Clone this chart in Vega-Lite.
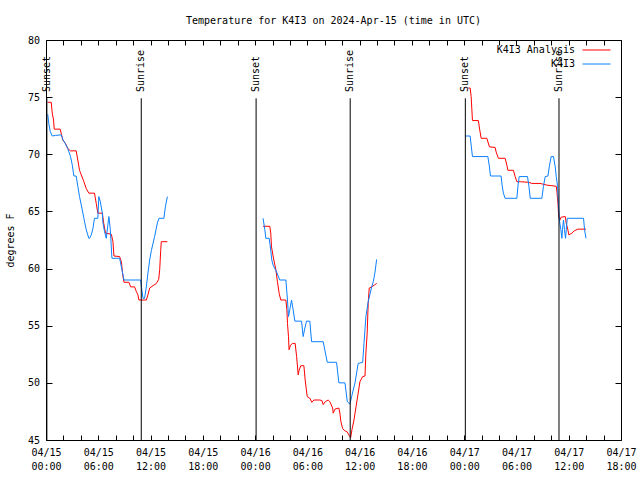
{
  "$schema": "https://vega.github.io/schema/vega-lite/v6.json",
  "autosize": "none",
  "padding": {"left": 46, "top": 40, "right": 19, "bottom": 40},
  "width": 575,
  "height": 400,
  "title": {"text": "Temperature for K4I3 on 2024-Apr-15 (time in UTC)", "font": "DejaVu Sans Mono", "fontSize": 10, "fontWeight": "normal", "color": "black", "anchor": "middle", "baseline": "alphabetic", "offset": 1, "frame": "group"},
  "config": {
    "font": "DejaVu Sans Mono",
    "view": {"stroke": "black", "strokeWidth": 1},
    "axis": {"domain": false, "grid": false, "labelFont": "DejaVu Sans Mono", "labelFontSize": 10, "labelColor": "black", "tickColor": "black", "titleFont": "DejaVu Sans Mono", "titleFontSize": 10, "titleFontWeight": "normal", "titleColor": "black"},
    "legend": {"symbolStrokeWidth": 1, "labelFont": "DejaVu Sans Mono", "labelFontSize": 10, "labelColor": "black"}
  },
  "datasets": {
    "sun": [
      {"e": "Sunset", "t": "2024-04-15T00:06:00Z"},
      {"e": "Sunrise", "t": "2024-04-15T10:56:00Z"},
      {"e": "Sunset", "t": "2024-04-16T00:07:00Z"},
      {"e": "Sunrise", "t": "2024-04-16T10:55:00Z"},
      {"e": "Sunset", "t": "2024-04-17T00:08:00Z"},
      {"e": "Sunrise", "t": "2024-04-17T10:53:00Z"}
    ],
    "obs": [
      {"s": "K4I3 Analysis", "g": 1, "t": "2024-04-15T00:12:00Z", "v": 74.55},
      {"s": "K4I3 Analysis", "g": 1, "t": "2024-04-15T00:36:00Z", "v": 74.55},
      {"s": "K4I3 Analysis", "g": 1, "t": "2024-04-15T00:43:00Z", "v": 73.6},
      {"s": "K4I3 Analysis", "g": 1, "t": "2024-04-15T00:52:00Z", "v": 73.0},
      {"s": "K4I3 Analysis", "g": 1, "t": "2024-04-15T00:57:00Z", "v": 72.2},
      {"s": "K4I3 Analysis", "g": 1, "t": "2024-04-15T01:38:00Z", "v": 72.2},
      {"s": "K4I3 Analysis", "g": 1, "t": "2024-04-15T01:47:00Z", "v": 71.7},
      {"s": "K4I3 Analysis", "g": 1, "t": "2024-04-15T01:56:00Z", "v": 71.25},
      {"s": "K4I3 Analysis", "g": 1, "t": "2024-04-15T02:14:00Z", "v": 70.95},
      {"s": "K4I3 Analysis", "g": 1, "t": "2024-04-15T02:30:00Z", "v": 70.5},
      {"s": "K4I3 Analysis", "g": 1, "t": "2024-04-15T02:49:00Z", "v": 70.3},
      {"s": "K4I3 Analysis", "g": 1, "t": "2024-04-15T03:28:00Z", "v": 70.3},
      {"s": "K4I3 Analysis", "g": 1, "t": "2024-04-15T03:39:00Z", "v": 69.5},
      {"s": "K4I3 Analysis", "g": 1, "t": "2024-04-15T03:51:00Z", "v": 68.6},
      {"s": "K4I3 Analysis", "g": 1, "t": "2024-04-15T04:03:00Z", "v": 68.2},
      {"s": "K4I3 Analysis", "g": 1, "t": "2024-04-15T04:21:00Z", "v": 67.6},
      {"s": "K4I3 Analysis", "g": 1, "t": "2024-04-15T04:37:00Z", "v": 67.0},
      {"s": "K4I3 Analysis", "g": 1, "t": "2024-04-15T04:55:00Z", "v": 66.6},
      {"s": "K4I3 Analysis", "g": 1, "t": "2024-04-15T05:34:00Z", "v": 66.6},
      {"s": "K4I3 Analysis", "g": 1, "t": "2024-04-15T05:46:00Z", "v": 65.7},
      {"s": "K4I3 Analysis", "g": 1, "t": "2024-04-15T05:57:00Z", "v": 64.85},
      {"s": "K4I3 Analysis", "g": 1, "t": "2024-04-15T06:28:00Z", "v": 64.85},
      {"s": "K4I3 Analysis", "g": 1, "t": "2024-04-15T06:37:00Z", "v": 64.0},
      {"s": "K4I3 Analysis", "g": 1, "t": "2024-04-15T06:50:00Z", "v": 63.1},
      {"s": "K4I3 Analysis", "g": 1, "t": "2024-04-15T07:30:00Z", "v": 63.0},
      {"s": "K4I3 Analysis", "g": 1, "t": "2024-04-15T07:41:00Z", "v": 62.35},
      {"s": "K4I3 Analysis", "g": 1, "t": "2024-04-15T07:48:00Z", "v": 61.1},
      {"s": "K4I3 Analysis", "g": 1, "t": "2024-04-15T08:27:00Z", "v": 61.05},
      {"s": "K4I3 Analysis", "g": 1, "t": "2024-04-15T08:39:00Z", "v": 60.6},
      {"s": "K4I3 Analysis", "g": 1, "t": "2024-04-15T08:50:00Z", "v": 59.3},
      {"s": "K4I3 Analysis", "g": 1, "t": "2024-04-15T08:57:00Z", "v": 58.8},
      {"s": "K4I3 Analysis", "g": 1, "t": "2024-04-15T09:31:00Z", "v": 58.8},
      {"s": "K4I3 Analysis", "g": 1, "t": "2024-04-15T09:43:00Z", "v": 58.4},
      {"s": "K4I3 Analysis", "g": 1, "t": "2024-04-15T10:10:00Z", "v": 58.4},
      {"s": "K4I3 Analysis", "g": 1, "t": "2024-04-15T10:22:00Z", "v": 58.0},
      {"s": "K4I3 Analysis", "g": 1, "t": "2024-04-15T10:33:00Z", "v": 57.7},
      {"s": "K4I3 Analysis", "g": 1, "t": "2024-04-15T10:40:00Z", "v": 57.25},
      {"s": "K4I3 Analysis", "g": 1, "t": "2024-04-15T11:31:00Z", "v": 57.25},
      {"s": "K4I3 Analysis", "g": 1, "t": "2024-04-15T11:42:00Z", "v": 57.7},
      {"s": "K4I3 Analysis", "g": 1, "t": "2024-04-15T11:54:00Z", "v": 58.3},
      {"s": "K4I3 Analysis", "g": 1, "t": "2024-04-15T12:17:00Z", "v": 58.5},
      {"s": "K4I3 Analysis", "g": 1, "t": "2024-04-15T12:40:00Z", "v": 58.7},
      {"s": "K4I3 Analysis", "g": 1, "t": "2024-04-15T12:56:00Z", "v": 59.05},
      {"s": "K4I3 Analysis", "g": 1, "t": "2024-04-15T13:03:00Z", "v": 59.9},
      {"s": "K4I3 Analysis", "g": 1, "t": "2024-04-15T13:10:00Z", "v": 61.6},
      {"s": "K4I3 Analysis", "g": 1, "t": "2024-04-15T13:14:00Z", "v": 62.35},
      {"s": "K4I3 Analysis", "g": 1, "t": "2024-04-15T13:56:00Z", "v": 62.35},
      {"s": "K4I3 Analysis", "g": 2, "t": "2024-04-16T00:55:00Z", "v": 63.7},
      {"s": "K4I3 Analysis", "g": 2, "t": "2024-04-16T01:41:00Z", "v": 63.7},
      {"s": "K4I3 Analysis", "g": 2, "t": "2024-04-16T01:48:00Z", "v": 63.1},
      {"s": "K4I3 Analysis", "g": 2, "t": "2024-04-16T01:53:00Z", "v": 61.9},
      {"s": "K4I3 Analysis", "g": 2, "t": "2024-04-16T02:09:00Z", "v": 60.75},
      {"s": "K4I3 Analysis", "g": 2, "t": "2024-04-16T02:23:00Z", "v": 59.9},
      {"s": "K4I3 Analysis", "g": 2, "t": "2024-04-16T02:34:00Z", "v": 58.85},
      {"s": "K4I3 Analysis", "g": 2, "t": "2024-04-16T02:46:00Z", "v": 57.8},
      {"s": "K4I3 Analysis", "g": 2, "t": "2024-04-16T02:57:00Z", "v": 57.25},
      {"s": "K4I3 Analysis", "g": 2, "t": "2024-04-16T03:32:00Z", "v": 57.25},
      {"s": "K4I3 Analysis", "g": 2, "t": "2024-04-16T03:39:00Z", "v": 56.4},
      {"s": "K4I3 Analysis", "g": 2, "t": "2024-04-16T03:43:00Z", "v": 55.2},
      {"s": "K4I3 Analysis", "g": 2, "t": "2024-04-16T03:50:00Z", "v": 54.05},
      {"s": "K4I3 Analysis", "g": 2, "t": "2024-04-16T03:54:00Z", "v": 52.9},
      {"s": "K4I3 Analysis", "g": 2, "t": "2024-04-16T04:04:00Z", "v": 53.3},
      {"s": "K4I3 Analysis", "g": 2, "t": "2024-04-16T04:18:00Z", "v": 53.45},
      {"s": "K4I3 Analysis", "g": 2, "t": "2024-04-16T04:36:00Z", "v": 53.45},
      {"s": "K4I3 Analysis", "g": 2, "t": "2024-04-16T04:46:00Z", "v": 52.3},
      {"s": "K4I3 Analysis", "g": 2, "t": "2024-04-16T04:57:00Z", "v": 50.7},
      {"s": "K4I3 Analysis", "g": 2, "t": "2024-04-16T05:03:00Z", "v": 51.1},
      {"s": "K4I3 Analysis", "g": 2, "t": "2024-04-16T05:15:00Z", "v": 51.5},
      {"s": "K4I3 Analysis", "g": 2, "t": "2024-04-16T05:36:00Z", "v": 51.5},
      {"s": "K4I3 Analysis", "g": 2, "t": "2024-04-16T05:45:00Z", "v": 50.25},
      {"s": "K4I3 Analysis", "g": 2, "t": "2024-04-16T05:59:00Z", "v": 48.8},
      {"s": "K4I3 Analysis", "g": 2, "t": "2024-04-16T06:17:00Z", "v": 48.65},
      {"s": "K4I3 Analysis", "g": 2, "t": "2024-04-16T06:31:00Z", "v": 48.3},
      {"s": "K4I3 Analysis", "g": 2, "t": "2024-04-16T06:45:00Z", "v": 48.5},
      {"s": "K4I3 Analysis", "g": 2, "t": "2024-04-16T07:26:00Z", "v": 48.5},
      {"s": "K4I3 Analysis", "g": 2, "t": "2024-04-16T07:40:00Z", "v": 48.45},
      {"s": "K4I3 Analysis", "g": 2, "t": "2024-04-16T07:49:00Z", "v": 48.1},
      {"s": "K4I3 Analysis", "g": 2, "t": "2024-04-16T08:03:00Z", "v": 48.35},
      {"s": "K4I3 Analysis", "g": 2, "t": "2024-04-16T08:23:00Z", "v": 48.5},
      {"s": "K4I3 Analysis", "g": 2, "t": "2024-04-16T08:35:00Z", "v": 48.35},
      {"s": "K4I3 Analysis", "g": 2, "t": "2024-04-16T08:54:00Z", "v": 47.8},
      {"s": "K4I3 Analysis", "g": 2, "t": "2024-04-16T08:58:00Z", "v": 47.35},
      {"s": "K4I3 Analysis", "g": 2, "t": "2024-04-16T09:10:00Z", "v": 47.7},
      {"s": "K4I3 Analysis", "g": 2, "t": "2024-04-16T09:37:00Z", "v": 47.8},
      {"s": "K4I3 Analysis", "g": 2, "t": "2024-04-16T09:44:00Z", "v": 47.35},
      {"s": "K4I3 Analysis", "g": 2, "t": "2024-04-16T09:51:00Z", "v": 46.6},
      {"s": "K4I3 Analysis", "g": 2, "t": "2024-04-16T10:03:00Z", "v": 46.0},
      {"s": "K4I3 Analysis", "g": 2, "t": "2024-04-16T10:19:00Z", "v": 45.8},
      {"s": "K4I3 Analysis", "g": 2, "t": "2024-04-16T10:35:00Z", "v": 45.7},
      {"s": "K4I3 Analysis", "g": 2, "t": "2024-04-16T10:48:00Z", "v": 45.4},
      {"s": "K4I3 Analysis", "g": 2, "t": "2024-04-16T10:58:00Z", "v": 45.2},
      {"s": "K4I3 Analysis", "g": 2, "t": "2024-04-16T11:07:00Z", "v": 45.9},
      {"s": "K4I3 Analysis", "g": 2, "t": "2024-04-16T11:21:00Z", "v": 46.75},
      {"s": "K4I3 Analysis", "g": 2, "t": "2024-04-16T11:35:00Z", "v": 47.9},
      {"s": "K4I3 Analysis", "g": 2, "t": "2024-04-16T11:50:00Z", "v": 49.1},
      {"s": "K4I3 Analysis", "g": 2, "t": "2024-04-16T12:02:00Z", "v": 50.1},
      {"s": "K4I3 Analysis", "g": 2, "t": "2024-04-16T12:21:00Z", "v": 50.55},
      {"s": "K4I3 Analysis", "g": 2, "t": "2024-04-16T12:37:00Z", "v": 50.6},
      {"s": "K4I3 Analysis", "g": 2, "t": "2024-04-16T12:43:00Z", "v": 52.6},
      {"s": "K4I3 Analysis", "g": 2, "t": "2024-04-16T12:52:00Z", "v": 54.35},
      {"s": "K4I3 Analysis", "g": 2, "t": "2024-04-16T12:59:00Z", "v": 56.95},
      {"s": "K4I3 Analysis", "g": 2, "t": "2024-04-16T13:06:00Z", "v": 58.3},
      {"s": "K4I3 Analysis", "g": 2, "t": "2024-04-16T13:23:00Z", "v": 58.4},
      {"s": "K4I3 Analysis", "g": 2, "t": "2024-04-16T13:41:00Z", "v": 58.55},
      {"s": "K4I3 Analysis", "g": 2, "t": "2024-04-16T13:57:00Z", "v": 58.7},
      {"s": "K4I3 Analysis", "g": 3, "t": "2024-04-17T00:29:00Z", "v": 75.8},
      {"s": "K4I3 Analysis", "g": 3, "t": "2024-04-17T00:41:00Z", "v": 75.8},
      {"s": "K4I3 Analysis", "g": 3, "t": "2024-04-17T00:48:00Z", "v": 75.05},
      {"s": "K4I3 Analysis", "g": 3, "t": "2024-04-17T00:57:00Z", "v": 72.95},
      {"s": "K4I3 Analysis", "g": 3, "t": "2024-04-17T01:38:00Z", "v": 72.95},
      {"s": "K4I3 Analysis", "g": 3, "t": "2024-04-17T01:45:00Z", "v": 72.3},
      {"s": "K4I3 Analysis", "g": 3, "t": "2024-04-17T01:57:00Z", "v": 71.4},
      {"s": "K4I3 Analysis", "g": 3, "t": "2024-04-17T02:36:00Z", "v": 71.4},
      {"s": "K4I3 Analysis", "g": 3, "t": "2024-04-17T02:54:00Z", "v": 70.65},
      {"s": "K4I3 Analysis", "g": 3, "t": "2024-04-17T03:33:00Z", "v": 70.6},
      {"s": "K4I3 Analysis", "g": 3, "t": "2024-04-17T03:40:00Z", "v": 70.2},
      {"s": "K4I3 Analysis", "g": 3, "t": "2024-04-17T03:56:00Z", "v": 69.65},
      {"s": "K4I3 Analysis", "g": 3, "t": "2024-04-17T04:42:00Z", "v": 69.65},
      {"s": "K4I3 Analysis", "g": 3, "t": "2024-04-17T04:54:00Z", "v": 69.05},
      {"s": "K4I3 Analysis", "g": 3, "t": "2024-04-17T05:01:00Z", "v": 68.6},
      {"s": "K4I3 Analysis", "g": 3, "t": "2024-04-17T05:39:00Z", "v": 68.6},
      {"s": "K4I3 Analysis", "g": 3, "t": "2024-04-17T05:51:00Z", "v": 68.05},
      {"s": "K4I3 Analysis", "g": 3, "t": "2024-04-17T06:03:00Z", "v": 67.6},
      {"s": "K4I3 Analysis", "g": 3, "t": "2024-04-17T06:26:00Z", "v": 67.6},
      {"s": "K4I3 Analysis", "g": 3, "t": "2024-04-17T07:23:00Z", "v": 67.55},
      {"s": "K4I3 Analysis", "g": 3, "t": "2024-04-17T07:46:00Z", "v": 67.45},
      {"s": "K4I3 Analysis", "g": 3, "t": "2024-04-17T08:43:00Z", "v": 67.45},
      {"s": "K4I3 Analysis", "g": 3, "t": "2024-04-17T09:30:00Z", "v": 67.3},
      {"s": "K4I3 Analysis", "g": 3, "t": "2024-04-17T10:04:00Z", "v": 67.25},
      {"s": "K4I3 Analysis", "g": 3, "t": "2024-04-17T10:34:00Z", "v": 67.2},
      {"s": "K4I3 Analysis", "g": 3, "t": "2024-04-17T10:39:00Z", "v": 66.7},
      {"s": "K4I3 Analysis", "g": 3, "t": "2024-04-17T10:46:00Z", "v": 65.7},
      {"s": "K4I3 Analysis", "g": 3, "t": "2024-04-17T10:50:00Z", "v": 64.7},
      {"s": "K4I3 Analysis", "g": 3, "t": "2024-04-17T10:57:00Z", "v": 64.2},
      {"s": "K4I3 Analysis", "g": 3, "t": "2024-04-17T11:08:00Z", "v": 64.5},
      {"s": "K4I3 Analysis", "g": 3, "t": "2024-04-17T11:36:00Z", "v": 64.55},
      {"s": "K4I3 Analysis", "g": 3, "t": "2024-04-17T11:43:00Z", "v": 63.95},
      {"s": "K4I3 Analysis", "g": 3, "t": "2024-04-17T11:54:00Z", "v": 63.4},
      {"s": "K4I3 Analysis", "g": 3, "t": "2024-04-17T12:01:00Z", "v": 62.95},
      {"s": "K4I3 Analysis", "g": 3, "t": "2024-04-17T12:22:00Z", "v": 63.1},
      {"s": "K4I3 Analysis", "g": 3, "t": "2024-04-17T12:38:00Z", "v": 63.3},
      {"s": "K4I3 Analysis", "g": 3, "t": "2024-04-17T13:03:00Z", "v": 63.45},
      {"s": "K4I3 Analysis", "g": 3, "t": "2024-04-17T13:59:00Z", "v": 63.45},
      {"s": "K4I3", "g": 1, "t": "2024-04-15T00:12:00Z", "v": 73.5},
      {"s": "K4I3", "g": 1, "t": "2024-04-15T00:19:00Z", "v": 72.7},
      {"s": "K4I3", "g": 1, "t": "2024-04-15T00:29:00Z", "v": 72.0},
      {"s": "K4I3", "g": 1, "t": "2024-04-15T00:43:00Z", "v": 71.6},
      {"s": "K4I3", "g": 1, "t": "2024-04-15T01:05:00Z", "v": 71.65},
      {"s": "K4I3", "g": 1, "t": "2024-04-15T01:45:00Z", "v": 71.7},
      {"s": "K4I3", "g": 1, "t": "2024-04-15T01:56:00Z", "v": 71.3},
      {"s": "K4I3", "g": 1, "t": "2024-04-15T02:14:00Z", "v": 70.9},
      {"s": "K4I3", "g": 1, "t": "2024-04-15T02:30:00Z", "v": 70.5},
      {"s": "K4I3", "g": 1, "t": "2024-04-15T02:49:00Z", "v": 69.8},
      {"s": "K4I3", "g": 1, "t": "2024-04-15T03:01:00Z", "v": 69.05},
      {"s": "K4I3", "g": 1, "t": "2024-04-15T03:12:00Z", "v": 68.1},
      {"s": "K4I3", "g": 1, "t": "2024-04-15T03:28:00Z", "v": 68.1},
      {"s": "K4I3", "g": 1, "t": "2024-04-15T03:39:00Z", "v": 67.2},
      {"s": "K4I3", "g": 1, "t": "2024-04-15T03:51:00Z", "v": 66.3},
      {"s": "K4I3", "g": 1, "t": "2024-04-15T04:07:00Z", "v": 65.3},
      {"s": "K4I3", "g": 1, "t": "2024-04-15T04:21:00Z", "v": 64.4},
      {"s": "K4I3", "g": 1, "t": "2024-04-15T04:37:00Z", "v": 63.4},
      {"s": "K4I3", "g": 1, "t": "2024-04-15T04:55:00Z", "v": 62.65},
      {"s": "K4I3", "g": 1, "t": "2024-04-15T05:00:00Z", "v": 62.65},
      {"s": "K4I3", "g": 1, "t": "2024-04-15T05:12:00Z", "v": 62.95},
      {"s": "K4I3", "g": 1, "t": "2024-04-15T05:23:00Z", "v": 63.5},
      {"s": "K4I3", "g": 1, "t": "2024-04-15T05:34:00Z", "v": 64.4},
      {"s": "K4I3", "g": 1, "t": "2024-04-15T05:57:00Z", "v": 64.4},
      {"s": "K4I3", "g": 1, "t": "2024-04-15T06:04:00Z", "v": 66.3},
      {"s": "K4I3", "g": 1, "t": "2024-04-15T06:14:00Z", "v": 65.85},
      {"s": "K4I3", "g": 1, "t": "2024-04-15T06:28:00Z", "v": 64.85},
      {"s": "K4I3", "g": 1, "t": "2024-04-15T06:32:00Z", "v": 64.0},
      {"s": "K4I3", "g": 1, "t": "2024-04-15T06:43:00Z", "v": 63.25},
      {"s": "K4I3", "g": 1, "t": "2024-04-15T06:55:00Z", "v": 62.65},
      {"s": "K4I3", "g": 1, "t": "2024-04-15T07:06:00Z", "v": 63.8},
      {"s": "K4I3", "g": 1, "t": "2024-04-15T07:13:00Z", "v": 64.55},
      {"s": "K4I3", "g": 1, "t": "2024-04-15T07:23:00Z", "v": 63.4},
      {"s": "K4I3", "g": 1, "t": "2024-04-15T07:34:00Z", "v": 60.9},
      {"s": "K4I3", "g": 1, "t": "2024-04-15T08:27:00Z", "v": 60.9},
      {"s": "K4I3", "g": 1, "t": "2024-04-15T08:43:00Z", "v": 59.9},
      {"s": "K4I3", "g": 1, "t": "2024-04-15T08:57:00Z", "v": 59.0},
      {"s": "K4I3", "g": 1, "t": "2024-04-15T10:52:00Z", "v": 59.0},
      {"s": "K4I3", "g": 1, "t": "2024-04-15T10:57:00Z", "v": 58.4},
      {"s": "K4I3", "g": 1, "t": "2024-04-15T11:08:00Z", "v": 57.4},
      {"s": "K4I3", "g": 1, "t": "2024-04-15T11:19:00Z", "v": 57.4},
      {"s": "K4I3", "g": 1, "t": "2024-04-15T11:31:00Z", "v": 58.4},
      {"s": "K4I3", "g": 1, "t": "2024-04-15T11:42:00Z", "v": 59.6},
      {"s": "K4I3", "g": 1, "t": "2024-04-15T11:54:00Z", "v": 60.75},
      {"s": "K4I3", "g": 1, "t": "2024-04-15T12:06:00Z", "v": 61.6},
      {"s": "K4I3", "g": 1, "t": "2024-04-15T12:28:00Z", "v": 62.8},
      {"s": "K4I3", "g": 1, "t": "2024-04-15T12:47:00Z", "v": 64.0},
      {"s": "K4I3", "g": 1, "t": "2024-04-15T12:58:00Z", "v": 64.4},
      {"s": "K4I3", "g": 1, "t": "2024-04-15T13:32:00Z", "v": 64.4},
      {"s": "K4I3", "g": 1, "t": "2024-04-15T13:42:00Z", "v": 65.4},
      {"s": "K4I3", "g": 1, "t": "2024-04-15T13:56:00Z", "v": 66.3},
      {"s": "K4I3", "g": 2, "t": "2024-04-16T00:55:00Z", "v": 64.4},
      {"s": "K4I3", "g": 2, "t": "2024-04-16T01:07:00Z", "v": 63.4},
      {"s": "K4I3", "g": 2, "t": "2024-04-16T01:14:00Z", "v": 62.65},
      {"s": "K4I3", "g": 2, "t": "2024-04-16T01:37:00Z", "v": 62.65},
      {"s": "K4I3", "g": 2, "t": "2024-04-16T01:46:00Z", "v": 61.8},
      {"s": "K4I3", "g": 2, "t": "2024-04-16T01:55:00Z", "v": 60.75},
      {"s": "K4I3", "g": 2, "t": "2024-04-16T02:04:00Z", "v": 60.3},
      {"s": "K4I3", "g": 2, "t": "2024-04-16T02:28:00Z", "v": 59.7},
      {"s": "K4I3", "g": 2, "t": "2024-04-16T02:50:00Z", "v": 59.0},
      {"s": "K4I3", "g": 2, "t": "2024-04-16T03:32:00Z", "v": 59.0},
      {"s": "K4I3", "g": 2, "t": "2024-04-16T03:43:00Z", "v": 57.25},
      {"s": "K4I3", "g": 2, "t": "2024-04-16T03:50:00Z", "v": 55.8},
      {"s": "K4I3", "g": 2, "t": "2024-04-16T03:59:00Z", "v": 56.4},
      {"s": "K4I3", "g": 2, "t": "2024-04-16T04:11:00Z", "v": 57.25},
      {"s": "K4I3", "g": 2, "t": "2024-04-16T04:22:00Z", "v": 56.4},
      {"s": "K4I3", "g": 2, "t": "2024-04-16T04:34:00Z", "v": 55.4},
      {"s": "K4I3", "g": 2, "t": "2024-04-16T05:20:00Z", "v": 55.4},
      {"s": "K4I3", "g": 2, "t": "2024-04-16T05:31:00Z", "v": 54.05},
      {"s": "K4I3", "g": 2, "t": "2024-04-16T05:43:00Z", "v": 54.8},
      {"s": "K4I3", "g": 2, "t": "2024-04-16T05:54:00Z", "v": 55.4},
      {"s": "K4I3", "g": 2, "t": "2024-04-16T06:17:00Z", "v": 55.4},
      {"s": "K4I3", "g": 2, "t": "2024-04-16T06:29:00Z", "v": 53.6},
      {"s": "K4I3", "g": 2, "t": "2024-04-16T07:49:00Z", "v": 53.6},
      {"s": "K4I3", "g": 2, "t": "2024-04-16T08:17:00Z", "v": 51.8},
      {"s": "K4I3", "g": 2, "t": "2024-04-16T09:21:00Z", "v": 51.8},
      {"s": "K4I3", "g": 2, "t": "2024-04-16T09:37:00Z", "v": 50.0},
      {"s": "K4I3", "g": 2, "t": "2024-04-16T10:19:00Z", "v": 50.0},
      {"s": "K4I3", "g": 2, "t": "2024-04-16T10:35:00Z", "v": 48.35},
      {"s": "K4I3", "g": 2, "t": "2024-04-16T10:53:00Z", "v": 48.15},
      {"s": "K4I3", "g": 2, "t": "2024-04-16T11:05:00Z", "v": 48.8},
      {"s": "K4I3", "g": 2, "t": "2024-04-16T11:28:00Z", "v": 50.0},
      {"s": "K4I3", "g": 2, "t": "2024-04-16T11:50:00Z", "v": 51.7},
      {"s": "K4I3", "g": 2, "t": "2024-04-16T12:21:00Z", "v": 51.8},
      {"s": "K4I3", "g": 2, "t": "2024-04-16T12:30:00Z", "v": 53.45},
      {"s": "K4I3", "g": 2, "t": "2024-04-16T12:43:00Z", "v": 55.8},
      {"s": "K4I3", "g": 2, "t": "2024-04-16T12:59:00Z", "v": 57.1},
      {"s": "K4I3", "g": 2, "t": "2024-04-16T13:23:00Z", "v": 58.4},
      {"s": "K4I3", "g": 2, "t": "2024-04-16T13:34:00Z", "v": 58.85},
      {"s": "K4I3", "g": 2, "t": "2024-04-16T13:46:00Z", "v": 59.7},
      {"s": "K4I3", "g": 2, "t": "2024-04-16T13:57:00Z", "v": 60.8},
      {"s": "K4I3", "g": 3, "t": "2024-04-17T00:06:00Z", "v": 71.6},
      {"s": "K4I3", "g": 3, "t": "2024-04-17T00:41:00Z", "v": 71.6},
      {"s": "K4I3", "g": 3, "t": "2024-04-17T00:48:00Z", "v": 70.8},
      {"s": "K4I3", "g": 3, "t": "2024-04-17T00:57:00Z", "v": 69.8},
      {"s": "K4I3", "g": 3, "t": "2024-04-17T02:43:00Z", "v": 69.8},
      {"s": "K4I3", "g": 3, "t": "2024-04-17T02:54:00Z", "v": 68.9},
      {"s": "K4I3", "g": 3, "t": "2024-04-17T03:01:00Z", "v": 68.1},
      {"s": "K4I3", "g": 3, "t": "2024-04-17T04:14:00Z", "v": 68.1},
      {"s": "K4I3", "g": 3, "t": "2024-04-17T04:21:00Z", "v": 67.3},
      {"s": "K4I3", "g": 3, "t": "2024-04-17T04:30:00Z", "v": 66.6},
      {"s": "K4I3", "g": 3, "t": "2024-04-17T04:42:00Z", "v": 66.15},
      {"s": "K4I3", "g": 3, "t": "2024-04-17T06:03:00Z", "v": 66.15},
      {"s": "K4I3", "g": 3, "t": "2024-04-17T06:10:00Z", "v": 67.2},
      {"s": "K4I3", "g": 3, "t": "2024-04-17T06:19:00Z", "v": 68.05},
      {"s": "K4I3", "g": 3, "t": "2024-04-17T07:16:00Z", "v": 68.05},
      {"s": "K4I3", "g": 3, "t": "2024-04-17T07:26:00Z", "v": 67.2},
      {"s": "K4I3", "g": 3, "t": "2024-04-17T07:35:00Z", "v": 66.15},
      {"s": "K4I3", "g": 3, "t": "2024-04-17T08:55:00Z", "v": 66.15},
      {"s": "K4I3", "g": 3, "t": "2024-04-17T09:06:00Z", "v": 67.2},
      {"s": "K4I3", "g": 3, "t": "2024-04-17T09:18:00Z", "v": 68.05},
      {"s": "K4I3", "g": 3, "t": "2024-04-17T09:37:00Z", "v": 68.1},
      {"s": "K4I3", "g": 3, "t": "2024-04-17T09:46:00Z", "v": 68.9},
      {"s": "K4I3", "g": 3, "t": "2024-04-17T09:59:00Z", "v": 69.8},
      {"s": "K4I3", "g": 3, "t": "2024-04-17T10:15:00Z", "v": 69.8},
      {"s": "K4I3", "g": 3, "t": "2024-04-17T10:27:00Z", "v": 68.9},
      {"s": "K4I3", "g": 3, "t": "2024-04-17T10:34:00Z", "v": 68.05},
      {"s": "K4I3", "g": 3, "t": "2024-04-17T10:43:00Z", "v": 67.2},
      {"s": "K4I3", "g": 3, "t": "2024-04-17T10:50:00Z", "v": 65.4},
      {"s": "K4I3", "g": 3, "t": "2024-04-17T10:57:00Z", "v": 64.1},
      {"s": "K4I3", "g": 3, "t": "2024-04-17T11:06:00Z", "v": 63.4},
      {"s": "K4I3", "g": 3, "t": "2024-04-17T11:13:00Z", "v": 62.65},
      {"s": "K4I3", "g": 3, "t": "2024-04-17T11:17:00Z", "v": 63.4},
      {"s": "K4I3", "g": 3, "t": "2024-04-17T11:24:00Z", "v": 64.25},
      {"s": "K4I3", "g": 3, "t": "2024-04-17T11:31:00Z", "v": 63.4},
      {"s": "K4I3", "g": 3, "t": "2024-04-17T11:38:00Z", "v": 62.65},
      {"s": "K4I3", "g": 3, "t": "2024-04-17T11:43:00Z", "v": 63.4},
      {"s": "K4I3", "g": 3, "t": "2024-04-17T11:50:00Z", "v": 64.4},
      {"s": "K4I3", "g": 3, "t": "2024-04-17T13:42:00Z", "v": 64.4},
      {"s": "K4I3", "g": 3, "t": "2024-04-17T13:49:00Z", "v": 63.4},
      {"s": "K4I3", "g": 3, "t": "2024-04-17T13:59:00Z", "v": 62.65}
    ]
  },
  "resolve": {"axis": {"x": "independent", "y": "independent"}},
  "layer": [
    {
      "data": {"name": "obs"},
      "mark": {"type": "line", "strokeWidth": 1, "interpolate": "linear"},
      "encoding": {
        "x": {"field": "t", "type": "temporal",
          "scale": {"type": "utc", "domain": [1713139200000, 1713376800000], "nice": false},
          "axis": {"orient": "bottom", "title": null, "tickCount": 40,
            "values": [1713139200000, 1713146400000, 1713153600000, 1713160800000, 1713168000000, 1713175200000, 1713182400000, 1713189600000, 1713196800000, 1713204000000, 1713211200000, 1713218400000, 1713225600000, 1713232800000, 1713240000000, 1713247200000, 1713254400000, 1713261600000, 1713268800000, 1713276000000, 1713283200000, 1713290400000, 1713297600000, 1713304800000, 1713312000000, 1713319200000, 1713326400000, 1713333600000, 1713340800000, 1713348000000, 1713355200000, 1713362400000, 1713369600000, 1713376800000],
            "tickSize": -5,
            "labelExpr": "utchours(datum.value) % 6 == 0 ? [utcFormat(datum.value, '%m/%d'), utcFormat(datum.value, '%H:%M')] : ''",
            "labelOverlap": false, "labelFlush": false, "labelBaseline": "top", "labelLineHeight": 14, "labelPadding": 12}},
        "y": {"field": "v", "type": "quantitative",
          "scale": {"domain": [45, 80], "nice": false, "zero": false},
          "axis": {"orient": "left", "values": [45, 50, 55, 60, 65, 70, 75, 80], "tickSize": -6, "labelPadding": 12.5,
            "title": "degrees F", "titleX": -36, "titleY": 200, "titleAngle": -90, "titleAlign": "center", "titleBaseline": "middle"}},
        "color": {"field": "s", "type": "nominal",
          "scale": {"domain": ["K4I3 Analysis", "K4I3"], "range": ["#ff0000", "#0a80ff"]},
          "legend": {"title": null, "orient": "none", "legendX": 436, "legendY": 4.5, "padding": 0, "symbolType": "M-2.8,0H2.8", "symbolSize": 100, "symbolOffset": 109, "labelOffset": -27, "labelAlign": "right", "rowPadding": 3}},
        "detail": {"field": "g"}
      }
    },
    {
      "data": {"name": "sun"},
      "mark": {"type": "rule", "color": "black", "strokeWidth": 1},
      "encoding": {
        "x": {"field": "t", "type": "temporal",
          "axis": {"orient": "top", "title": null, "labels": false, "tickCount": 40, "tickSize": -5,
            "values": [1713139200000, 1713146400000, 1713153600000, 1713160800000, 1713168000000, 1713175200000, 1713182400000, 1713189600000, 1713196800000, 1713204000000, 1713211200000, 1713218400000, 1713225600000, 1713232800000, 1713240000000, 1713247200000, 1713254400000, 1713261600000, 1713268800000, 1713276000000, 1713283200000, 1713290400000, 1713297600000, 1713304800000, 1713312000000, 1713319200000, 1713326400000, 1713333600000, 1713340800000, 1713348000000, 1713355200000, 1713362400000, 1713369600000, 1713376800000]}},
        "y": {"datum": 45, "type": "quantitative",
          "axis": {"orient": "right", "title": null, "labels": false, "values": [45, 50, 55, 60, 65, 70, 75, 80], "tickSize": -6}},
        "y2": {"datum": 74.9}
      }
    },
    {
      "data": {"name": "sun"},
      "mark": {"type": "text", "angle": 270, "align": "left", "baseline": "middle", "font": "DejaVu Sans Mono", "fontSize": 10, "color": "black"},
      "encoding": {
        "x": {"field": "t", "type": "temporal", "axis": null},
        "y": {"datum": 75.45, "type": "quantitative", "axis": null},
        "text": {"field": "e"}
      }
    }
  ]
}
